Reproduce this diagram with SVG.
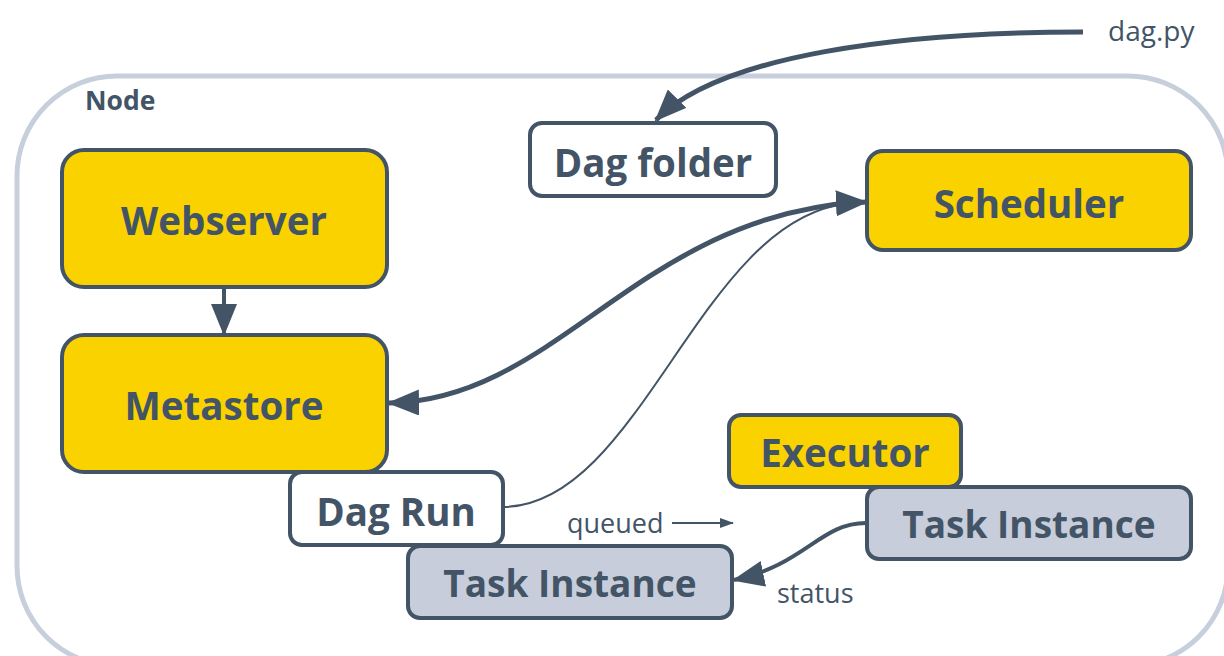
<svg xmlns="http://www.w3.org/2000/svg" width="1224" height="656" viewBox="0 0 1224 656">
<style>
.box{stroke:#425466;stroke-width:4}
.y{fill:#F9D200}
.w{fill:#FFFFFF}
.g{fill:#C7CDDA}
.lbl{font-family:"Open Sans","Liberation Sans",sans-serif;font-weight:700;font-size:38.5px;fill:#425466;text-anchor:middle}
.sm{font-family:"Open Sans","Liberation Sans",sans-serif;font-size:27px;fill:#425466}
.c{fill:none;stroke:#425466}
</style>
<defs>
<marker id="ah" viewBox="0 0 32 26" refX="30" refY="13" markerWidth="32" markerHeight="26" markerUnits="userSpaceOnUse" orient="auto-start-reverse">
<path d="M0,0 L32,13 L0,26 z" fill="#425466"/>
</marker>
<marker id="as" viewBox="0 0 14 10" refX="13" refY="5" markerWidth="14" markerHeight="10" markerUnits="userSpaceOnUse" orient="auto">
<path d="M0,0 L14,5 L0,10 z" fill="#425466"/>
</marker>
</defs>
<rect id="container" x="17" y="76" width="1211" height="590" rx="100" fill="none" stroke="#C8CFDC" stroke-width="5"/>
<text class="sm" x="85" y="110" style="font-weight:700;font-size:26.5px">Node</text>
<text class="sm" x="1108" y="41" style="font-size:28px">dag.py</text>
<g id="connectors">
<path class="c" stroke-width="5" d="M1083,32 C900,32 720,55 656,120" marker-end="url(#ah)"/>
<path class="c" stroke-width="4" d="M224,288 L224,334" marker-end="url(#ah)"/>
<path class="c" stroke-width="5" d="M389,403 C560,400 640,212 866,202" marker-start="url(#ah)" marker-end="url(#ah)"/>
<path class="c" stroke-width="2" d="M504,507 C640,505 700,222 845,204"/>
<path class="c" stroke-width="2" d="M672,523 L733,523" marker-end="url(#as)"/>
<path class="c" stroke-width="4" d="M866,523 C820,523 805,565 734,580" marker-end="url(#ah)"/>
<text class="sm" x="567" y="533">queued</text>
<text class="sm" x="777" y="603">status</text>
</g>
<g id="webserver"><rect class="box y" x="62" y="150" width="325" height="137" rx="22"/><text class="lbl" x="224" y="235">Webserver</text></g>
<g id="metastore"><rect class="box y" x="62" y="335" width="325" height="137" rx="22"/><text class="lbl" x="224" y="420">Metastore</text></g>
<g id="dagfolder"><rect class="box w" x="530" y="123" width="246" height="73" rx="12"/><text class="lbl" x="653" y="177">Dag folder</text></g>
<g id="scheduler"><rect class="box y" x="867" y="151" width="324" height="99" rx="16"/><text class="lbl" x="1029" y="218">Scheduler</text></g>
<g id="dagrun"><rect class="box w" x="290" y="472" width="213" height="73" rx="12"/><text class="lbl" x="396" y="526">Dag Run</text></g>
<g id="executor"><rect class="box y" x="729" y="415" width="232" height="72" rx="12"/><text class="lbl" x="845" y="467">Executor</text></g>
<g id="taskinstance2"><rect class="box g" x="867" y="487" width="324" height="72" rx="12"/><text class="lbl" x="1029" y="538" style="font-size:37px">Task Instance</text></g>
<g id="taskinstance1"><rect class="box g" x="408" y="546" width="324" height="72" rx="12"/><text class="lbl" x="570" y="597" style="font-size:37px">Task Instance</text></g>
</svg>
